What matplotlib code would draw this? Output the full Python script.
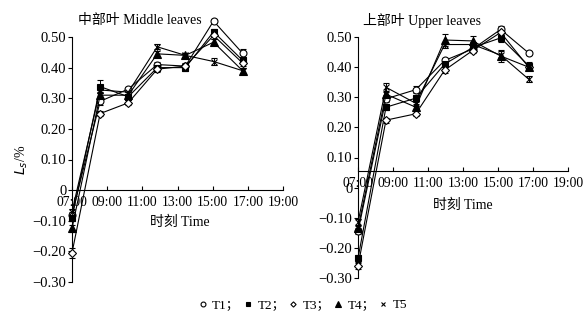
import matplotlib
matplotlib.use("Agg")
import matplotlib.pyplot as plt
from matplotlib.lines import Line2D
from matplotlib.ticker import FixedLocator, FuncFormatter

plt.rcParams['font.family'] = ['Liberation Serif', 'Noto Sans CJK SC']
plt.rcParams['axes.unicode_minus'] = True

# ---- data ----
series = ["T1", "T2", "T3", "T4", "T5"]
time_mid = [7.0, 8.6, 10.2, 11.85, 13.45, 15.05, 16.7]
time_up = [7.0, 8.6, 10.3, 11.95, 13.55, 15.15, 16.75]

mid_T1 = [-0.080, 0.290, 0.330, 0.410, 0.405, 0.552, 0.447]
mid_T2 = [-0.090, 0.338, 0.305, 0.400, 0.400, 0.517, 0.424]
mid_T3 = [-0.205, 0.250, 0.285, 0.395, 0.405, 0.505, 0.415]
mid_T4 = [-0.125, 0.310, 0.310, 0.445, 0.440, 0.483, 0.390]
mid_T5 = [-0.070, 0.327, 0.320, 0.468, 0.440, 0.420, 0.390]

mid_err_T1 = [0.010, 0.012, 0.008, 0.008, 0.008, 0.006, 0.015]
mid_err_T2 = [0.012, 0.020, 0.010, 0.010, 0.012, 0.010, 0.012]
mid_err_T3 = [0.015, 0.008, 0.008, 0.010, 0.010, 0.010, 0.010]
mid_err_T4 = [0.012, 0.012, 0.010, 0.010, 0.008, 0.010, 0.008]
mid_err_T5 = [0.010, 0.010, 0.008, 0.008, 0.008, 0.012, 0.008]

up_T1 = [-0.145, 0.295, 0.325, 0.422, 0.460, 0.525, 0.447]
up_T2 = [-0.235, 0.267, 0.297, 0.410, 0.465, 0.497, 0.405]
up_T3 = [-0.260, 0.224, 0.245, 0.390, 0.455, 0.515, 0.400]
up_T4 = [-0.135, 0.310, 0.267, 0.490, 0.487, 0.437, 0.400]
up_T5 = [-0.115, 0.333, 0.280, 0.475, 0.475, 0.440, 0.360]

up_err_T1 = [0.010, 0.012, 0.012, 0.008, 0.008, 0.012, 0.006]
up_err_T2 = [0.012, 0.010, 0.012, 0.010, 0.010, 0.012, 0.012]
up_err_T3 = [0.010, 0.008, 0.008, 0.010, 0.008, 0.012, 0.010]
up_err_T4 = [0.010, 0.012, 0.010, 0.020, 0.015, 0.020, 0.010]
up_err_T5 = [0.012, 0.015, 0.010, 0.010, 0.010, 0.015, 0.010]

xticks = [7, 9, 11, 13, 15, 17, 19]
xticklabels = ["07:00", "09:00", "11:00", "13:00", "15:00", "17:00", "19:00"]
yticks = [0.50, 0.40, 0.30, 0.20, 0.10, 0.0, -0.10, -0.20, -0.30]

mid_title = "中部叶 Middle leaves"
up_title = "上部叶 Upper leaves"
xlabel = "时刻 Time"

styles = {
    "T1": dict(marker="o", mfc="white", ms=5),
    "T2": dict(marker="s", mfc="black", ms=5),
    "T3": dict(marker="D", mfc="white", ms=3.8),
    "T4": dict(marker="^", mfc="black", ms=5.5),
    "T5": dict(marker="x", mfc="black", ms=5),
}

fig = plt.figure(figsize=(5.85, 3.16), dpi=100)
W, H = 585, 316
ax1 = fig.add_axes([72 / W, 1 - 282 / H, 211 / W, 245 / H])
ax2 = fig.add_axes([358 / W, 1 - 278 / H, 210 / W, 241 / H])


def yfmt(v, pos):
    if abs(v) < 1e-9:
        return "0"
    return ("%.2f" % v).replace("-", "\u2212")


def draw(ax, t, vals, errs, title, xaxis_y, title_pos, xlabel_pos):
    for name, v, e in zip(series, vals, errs):
        st = styles[name]
        ax.errorbar(t, v, yerr=e, color="black", lw=0.8, elinewidth=0.7,
                    capsize=2.2, capthick=0.7, marker=st["marker"],
                    mfc=st["mfc"], mec="black", mew=0.8, ms=st["ms"],
                    clip_on=False, zorder=3)
    ax.set_xlim(7, 19)
    ax.set_ylim(-0.30, 0.50)
    ax.spines["top"].set_visible(False)
    ax.spines["right"].set_visible(False)
    ax.spines["bottom"].set_position(("data", xaxis_y))
    ax.spines["left"].set_linewidth(0.8)
    ax.spines["bottom"].set_linewidth(0.8)
    ax.xaxis.set_major_locator(FixedLocator(xticks))
    ax.set_xticklabels(xticklabels)
    ax.yaxis.set_major_locator(FixedLocator(yticks))
    ax.yaxis.set_major_formatter(FuncFormatter(yfmt))
    ax.tick_params(axis="x", direction="in", length=3, width=0.8, pad=4,
                   labelsize=9.8)
    ax.tick_params(axis="y", direction="out", length=3, width=0.8, pad=1,
                   labelsize=10.5)
    ax.patch.set_visible(False)
    ax.text(title_pos[0], title_pos[1], title, transform=ax.transAxes,
            ha="center", va="center", fontsize=10)
    ax.text(xlabel_pos[0], xlabel_pos[1], xlabel, transform=ax.transAxes,
            ha="center", va="center", fontsize=10)


draw(ax1, time_mid, [mid_T1, mid_T2, mid_T3, mid_T4, mid_T5],
     [mid_err_T1, mid_err_T2, mid_err_T3, mid_err_T4, mid_err_T5],
     mid_title, 0.0, (0.322, 1.069), (0.512, 0.245))
draw(ax2, time_up, [up_T1, up_T2, up_T3, up_T4, up_T5],
     [up_err_T1, up_err_T2, up_err_T3, up_err_T4, up_err_T5],
     up_title, 0.055, (0.305, 1.07), (0.5, 0.303))

fig.text(22 / W, 1 - 160 / H, "$L_s$/%", rotation=90, ha="center",
         va="center", fontsize=10)

handles = []
labels = []
for i, name in enumerate(series):
    st = styles[name]
    handles.append(Line2D([], [], ls="none", marker=st["marker"],
                          mfc=st["mfc"], mec="black", color="black",
                          mew=0.8, ms=st["ms"] * 0.7))
    labels.append(name + ("；" if i < len(series) - 1 else ""))
fig.legend(handles, labels, loc="center", bbox_to_anchor=(303 / W, 1 - 305 / H),
           ncol=5, frameon=False, fontsize=9.5, handlelength=0.6,
           handletextpad=0.4, columnspacing=0.3, borderpad=0)

fig.savefig("out.png", dpi=100)
